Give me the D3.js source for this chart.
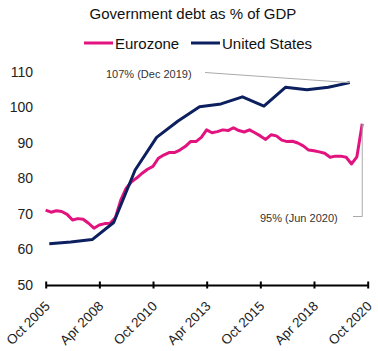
<!DOCTYPE html>
<html>
<head>
<meta charset="utf-8">
<script src="https://cdn.jsdelivr.net/npm/d3@7"></script>
<style>
  body { margin: 0; background: #fff; }
  svg text { font-family: "Liberation Sans", Arial, sans-serif; }
</style>
</head>
<body>
<div id="chart"></div>
<script>
// Eurozone, quarterly from Q3 2005 to Q2 2020 (% of GDP)
const euroValues = [71.1, 70.5, 70.9, 70.7, 69.9, 68.3, 68.7, 68.5, 67.4, 66.0,
    66.9, 67.3, 67.4, 69.0, 73.9, 77.2, 79.1, 80.2, 81.5, 82.6,
    83.4, 85.7, 86.6, 87.3, 87.3, 88.0, 89.0, 90.4, 90.4, 91.6,
    93.7, 92.9, 93.2, 93.7, 93.5, 94.3, 93.5, 93.1, 93.7, 92.9,
    92.0, 91.0, 92.3, 92.0, 90.8, 90.4, 90.5, 90.0, 89.2, 88.0,
    87.8, 87.5, 87.1, 86.0, 86.3, 86.3, 86.0, 84.1, 86.1, 95.4];
// United States, December of each year
const usYears = [2005, 2006, 2007, 2008, 2009, 2010, 2011, 2012, 2013, 2014, 2015, 2016, 2017, 2018, 2019];
const usValues = [61.6, 62.1, 62.8, 67.6, 82.4, 91.6, 96.2, 100.2, 101.0, 103.0, 100.4, 105.7, 105.0, 105.7, 107.0];
const seriesNames = ['Eurozone', 'United States'];
const seriesColors = ['#e2137f', '#0c1f5e'];
const yTicks = [50, 60, 70, 80, 90, 100, 110];
const xTickLabels = ['Oct 2005', 'Apr 2008', 'Oct 2010', 'Apr 2013', 'Oct 2015', 'Apr 2018', 'Oct 2020'];

const width = 378, height = 351;
const parseTick = d3.timeParse('%b %Y');

// quarter-end dates for the eurozone series (last day of Sep 2005 onwards)
const euro = euroValues.map((v, i) => ({date: new Date(2005, 9 + 3 * i, 0), value: v}));
const us = usYears.map((y, i) => ({date: new Date(y, 11, 1), value: usValues[i]}));

const svg = d3.select('#chart').append('svg')
    .attr('width', width)
    .attr('height', height);

const x = d3.scaleTime()
    .domain([parseTick(xTickLabels[0]), parseTick(xTickLabels[xTickLabels.length - 1])])
    .range([45.7, 367.7]);

const y = d3.scaleLinear()
    .domain([50, 110])
    .range([285, 72]);

// title
svg.append('text')
    .attr('x', 193)
    .attr('y', 18.5)
    .attr('text-anchor', 'middle')
    .style('font-size', '15px')
    .attr('fill', '#111')
    .text('Government debt as % of GDP');

// legend
const legendX = [84, 191];
seriesNames.forEach((name, i) => {
    svg.append('line')
        .attr('x1', legendX[i]).attr('x2', legendX[i] + 29)
        .attr('y1', 43).attr('y2', 43)
        .attr('stroke', seriesColors[i])
        .attr('stroke-width', 3);
    svg.append('text')
        .attr('x', legendX[i] + 31)
        .attr('y', 48.5)
        .style('font-size', '15px')
        .attr('fill', '#111')
        .text(name);
});

// y labels (no axis line)
svg.append('g')
    .selectAll('text')
    .data(yTicks)
    .enter()
    .append('text')
        .attr('x', 33)
        .attr('y', d => y(d))
        .attr('dy', '0.35em')
        .attr('text-anchor', 'end')
        .style('font-size', '14px')
        .attr('fill', '#222')
        .text(d => d);

// x axis
const xAxis = svg.append('g')
    .attr('transform', `translate(0,${y(50)})`)
    .call(d3.axisBottom(x)
        .tickValues(xTickLabels.map(parseTick))
        .tickFormat(d3.timeFormat('%b %Y'))
        .tickSizeInner(3.5)
        .tickSizeOuter(0));
xAxis.select('.domain').attr('stroke', '#000').attr('stroke-width', 2);
xAxis.selectAll('.tick line')
    .attr('y1', -3.5)
    .attr('stroke', '#000')
    .attr('stroke-width', 2);
xAxis.selectAll('.tick text')
    .style('font-size', '13.5px')
    .style('font-family', '"Liberation Sans", Arial, sans-serif')
    .attr('fill', '#222')
    .attr('y', 0)
    .attr('dy', 0)
    .attr('text-anchor', 'end')
    .attr('transform', 'translate(4.5,22)rotate(-45)');

// lines
const line = d3.line()
    .x(d => x(d.date))
    .y(d => y(d.value));

svg.append('path')
    .datum(euro)
    .attr('d', line)
    .attr('fill', 'none')
    .attr('stroke', seriesColors[0])
    .attr('stroke-width', 3)
    .attr('stroke-linejoin', 'round');

svg.append('path')
    .datum(us)
    .attr('d', line)
    .attr('fill', 'none')
    .attr('stroke', seriesColors[1])
    .attr('stroke-width', 3)
    .attr('stroke-linejoin', 'round');

// annotations
const usLast = us[us.length - 1];
const euroLast = euro[euro.length - 1];

svg.append('text')
    .attr('x', 106)
    .attr('y', 78)
    .style('font-size', '11px')
    .attr('fill', '#333')
    .text('107% (Dec 2019)');
svg.append('line')
    .attr('x1', 205).attr('y1', 72.5)
    .attr('x2', x(usLast.date)).attr('y2', y(usLast.value))
    .attr('stroke', '#aaa')
    .attr('stroke-width', 1);

svg.append('text')
    .attr('x', 260)
    .attr('y', 222)
    .style('font-size', '11px')
    .attr('fill', '#333')
    .text('95% (Jun 2020)');
svg.append('path')
    .attr('d', `M353,216.5H${x(euroLast.date)}V${y(euroLast.value)}`)
    .attr('fill', 'none')
    .attr('stroke', '#aaa')
    .attr('stroke-width', 1);
</script>
</body>
</html>
